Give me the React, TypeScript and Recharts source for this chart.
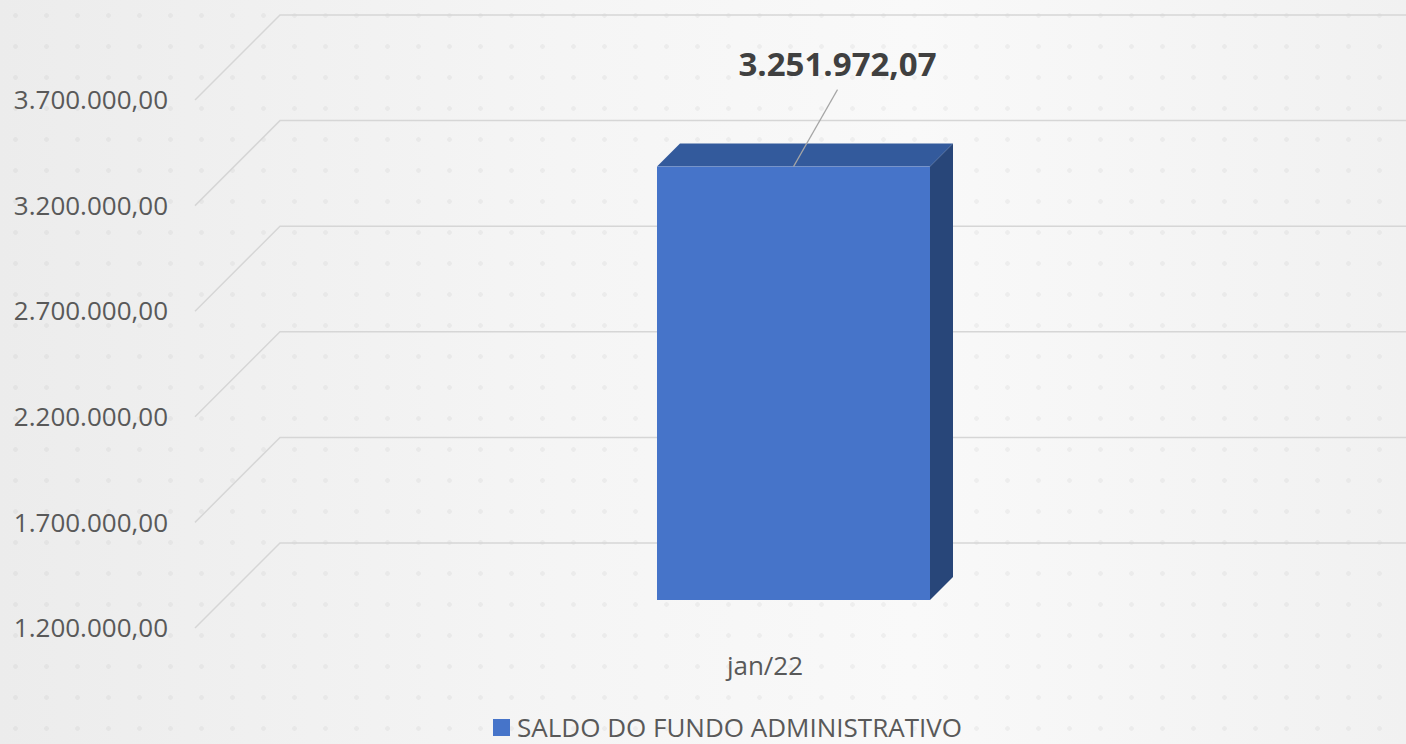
import React from "react";
import {
  BarChart,
  Bar,
  XAxis,
  YAxis,
  CartesianGrid,
  Legend,
  LabelList,
} from "recharts";

const months = ["jan/22"];
const saldo = [3251972.07];
const yTicks = [1200000, 1700000, 2200000, 2700000, 3200000, 3700000];
const seriesName = "SALDO DO FUNDO ADMINISTRATIVO";

const data = months.map((m, i) => ({ month: m, saldo: saldo[i] }));

const W = 1406;
const H = 744;
const WALL = 85; // depth of the back wall (oblique offset)
const BAR_OFFSET = 28; // how far behind the front plane the bar sits
const BAR_DEPTH = 23;
const FONT = "'Open Sans', sans-serif";

const fmt = (v: number) => {
  const [int, dec] = v.toFixed(2).split(".");
  return int.replace(/\B(?=(\d{3})+(?!\d))/g, ".") + "," + dec;
};

function GridLine(props: any) {
  const { x1, y1 } = props;
  return (
    <path
      key={props.key ?? `g-${y1}`}
      d={`M${x1},${y1} L${x1 + WALL},${y1 - WALL} L${W},${y1 - WALL}`}
      fill="none"
      stroke="#d6d6d6"
      strokeWidth={1.5}
    />
  );
}

function Bar3D(props: any) {
  const { x, y, width, height } = props;
  const fx = x + BAR_OFFSET;
  const fy = y - BAR_OFFSET;
  const r = fx + width;
  const b = fy + height;
  const d = BAR_DEPTH;
  return (
    <g>
      <path d={`M${fx},${fy} L${fx + d},${fy - d} L${r + d},${fy - d} L${r},${fy} Z`} fill="#335a9c" />
      <path d={`M${r},${fy} L${r + d},${fy - d} L${r + d},${b - d} L${r},${b} Z`} fill="#284679" />
      <rect x={fx} y={fy} width={width} height={height} fill="#4674c9" />
    </g>
  );
}

function ValueLabel(props: any) {
  const { x, y, width, value } = props;
  const sx = x + BAR_OFFSET + width / 2;
  const sy = y - BAR_OFFSET;
  const tx = x + width / 2 + 72;
  return (
    <g>
      <line x1={sx} y1={sy} x2={tx} y2={y - 105} stroke="#a6a6a6" strokeWidth={1.2} />
      <text
        x={tx}
        y={y - 119}
        textAnchor="middle"
        fontFamily={FONT}
        fontWeight={700}
        fontSize={33}
        fill="#404040"
      >
        {fmt(value)}
      </text>
    </g>
  );
}

function LegendContent() {
  return (
    <div
      style={{
        display: "flex",
        justifyContent: "center",
        alignItems: "center",
        gap: 7,
        paddingLeft: 49,
        fontFamily: FONT,
        fontSize: 26,
        color: "#595959",
        height: 30,
      }}
    >
      <span style={{ width: 17, height: 17, background: "#4674c9", display: "inline-block" }} />
      <span>{seriesName}</span>
    </div>
  );
}

export default function App() {
  return (
    <div
      style={{
        position: "absolute",
        left: 0,
        top: 0,
        width: W,
        height: H,
        overflow: "hidden",
        background:
          "radial-gradient(circle, rgba(0,0,0,0.04) 2px, transparent 2.6px) 0 0/31px 31px, linear-gradient(90deg, #ececec 0%, #f5f5f5 40%, #f9f9f9 65%, #f1f1f1 100%)",
      }}
    >
      <BarChart
        width={W}
        height={H}
        data={data}
        margin={{ top: 100, right: W - 1335, left: 0, bottom: 46 }}
      >
        <CartesianGrid vertical={false} horizontal={GridLine} />
        <YAxis
          width={195}
          domain={[1200000, 3700000]}
          ticks={yTicks}
          tickFormatter={fmt}
          axisLine={false}
          tickLine={false}
          tickSize={0}
          tickMargin={27}
          tick={{ fontFamily: FONT, fontSize: 26, fill: "#595959" }}
        />
        <XAxis
          dataKey="month"
          height={40}
          axisLine={false}
          tickLine={false}
          tickSize={0}
          tickMargin={29}
          tick={{ fontFamily: FONT, fontSize: 26, fill: "#595959" }}
        />
        <Legend
          verticalAlign="bottom"
          content={<LegendContent />}
          wrapperStyle={{ bottom: 2, left: 0, width: W }}
        />
        <Bar
          dataKey="saldo"
          name={seriesName}
          barSize={273}
          shape={<Bar3D />}
          isAnimationActive={false}
        >
          <LabelList dataKey="saldo" content={<ValueLabel />} />
        </Bar>
      </BarChart>
    </div>
  );
}
